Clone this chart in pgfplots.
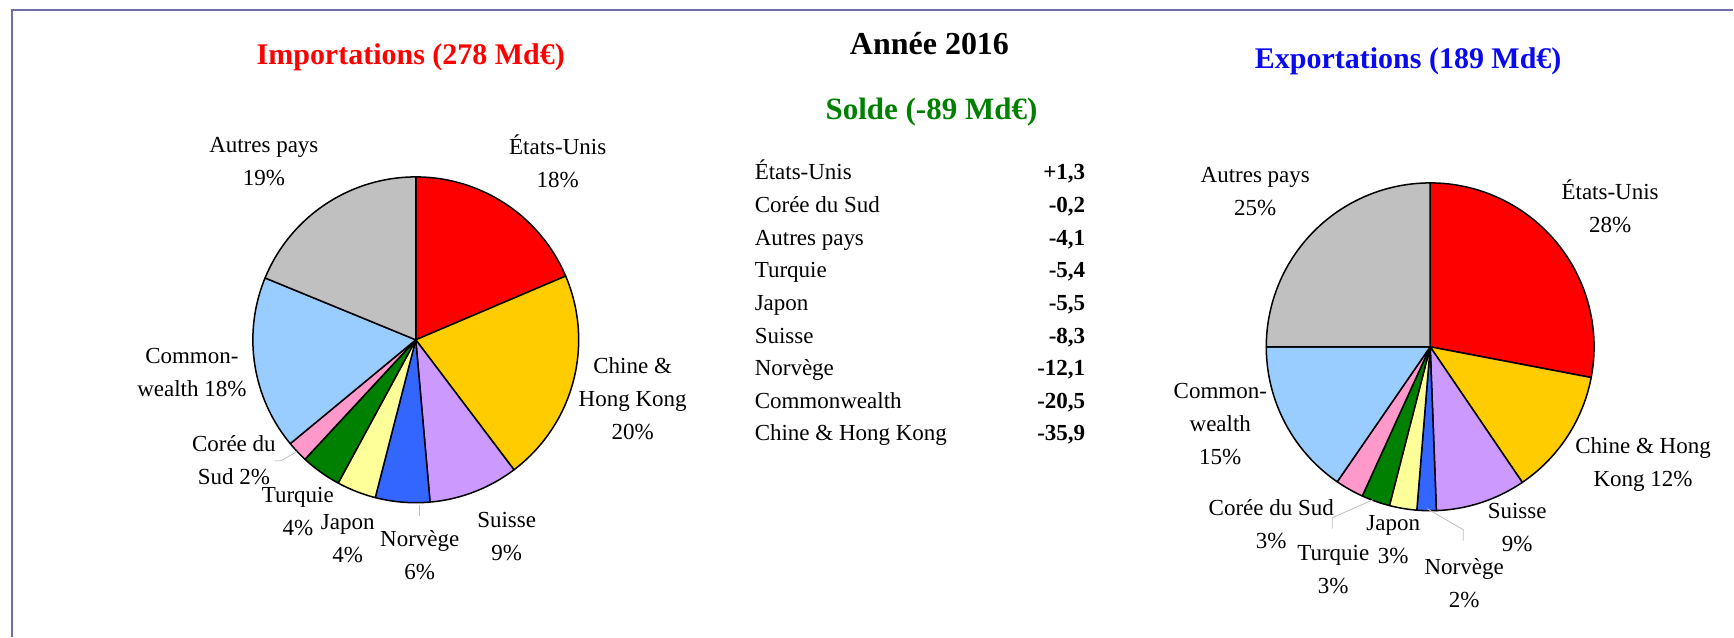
\documentclass[border=0pt]{standalone}
\usepackage{fontspec}
\setmainfont{Liberation Serif}
\usepackage{pgfplots}
\pgfplotsset{compat=1.18}
\definecolor{cUS}{HTML}{FF0000}
\definecolor{cCH}{HTML}{FFCC00}
\definecolor{cSU}{HTML}{CC99FF}
\definecolor{cNO}{HTML}{3366FF}
\definecolor{cJA}{HTML}{FFFF99}
\definecolor{cTU}{HTML}{008000}
\definecolor{cCO}{HTML}{FF99CC}
\definecolor{cCW}{HTML}{99CCFF}
\definecolor{cAU}{HTML}{C0C0C0}
\definecolor{frame}{HTML}{6E6EAA}
\definecolor{tblue}{HTML}{0A0AF0}
\definecolor{tgreen}{HTML}{008000}
\definecolor{leader}{HTML}{BFBFBF}
\def\cx{0}\def\cy{0}\def\R{163}
\def\cum{0}
\newcommand\slice[2]{%
  \pgfmathsetmacro\angA{90-3.6*\cum}%
  \pgfmathsetmacro\cumnew{\cum+#2}%
  \pgfmathsetmacro\angB{90-3.6*\cumnew}%
  \global\let\cum\cumnew
  \edef\temp{\noexpand\addplot[fill=#1,draw=black,line width=1.5pt,line join=round,domain=\angB:\angA,samples=61,variable=\noexpand\t] ({\cx+\R*cos(\noexpand\t)},{\cy-\R*sin(\noexpand\t)}) -- (axis cs:\cx,\cy) -- cycle;}%
  \temp}
\begin{document}
\begin{tikzpicture}
\begin{axis}[width=1734pt,height=637pt,scale only axis,
  xmin=0,xmax=1734,ymin=0,ymax=637,y dir=reverse,
  hide axis,clip=false,no markers]
\path (axis cs:0,0) rectangle (axis cs:1734,637);
% frame
\draw[frame,line width=2pt] (axis cs:12.3,637) -- (axis cs:12.3,10) -- (axis cs:1734,10);
% ---------- Importations (%), clockwise from top
\def\cx{416}\def\cy{340}\def\R{163}\gdef\cum{0}
\slice{cUS}{18.6}
\slice{cCH}{21.1}
\slice{cSU}{8.9}
\slice{cNO}{5.4}
\slice{cJA}{3.9}
\slice{cTU}{4.0}
\slice{cCO}{2.1}
\slice{cCW}{17.2}
\slice{cAU}{18.8}
% ---------- Exportations (%)
\def\cx{1431}\def\cy{347}\def\R{164}\gdef\cum{0}
\slice{cUS}{28.0}
\slice{cCH}{12.5}
\slice{cSU}{8.9}
\slice{cNO}{1.9}
\slice{cJA}{2.7}
\slice{cTU}{2.8}
\slice{cCO}{2.8}
\slice{cCW}{15.4}
\slice{cAU}{25.0}
% leader lines
\draw[leader,line width=0.8pt] (axis cs:297,452) -- (axis cs:281,461) -- (axis cs:275,461);
\draw[leader,line width=0.8pt] (axis cs:420,505) -- (axis cs:420,516);
\draw[leader,line width=0.8pt] (axis cs:1428,509) -- (axis cs:1464,530) -- (axis cs:1464,541);
\draw[leader,line width=0.8pt] (axis cs:1374,500) -- (axis cs:1333,518) -- (axis cs:1333,529);
% titles
\node[font=\fontsize{30}{36}\selectfont\bfseries,text=red] at (axis cs:411,57) {Importations (278 Md€)};
\node[font=\fontsize{30}{36}\selectfont\bfseries,text=tblue] at (axis cs:1409,61) {Exportations (189 Md€)};
\node[font=\fontsize{32}{38}\selectfont\bfseries] at (axis cs:930,44) {Année 2016};
\node[font=\fontsize{31}{37}\selectfont\bfseries,text=tgreen] at (axis cs:932,112) {Solde (-89 Md€)};
% import labels
\begin{scope}[every node/.style={font=\fontsize{23}{33}\selectfont,align=center,inner sep=0pt}]
\node at (axis cs:264,162) {Autres pays\\19\%};
\node at (axis cs:558,161) {États-Unis\\18\%};
\node at (axis cs:633,399) {Chine \&\\Hong Kong\\20\%};
\node at (axis cs:507,537) {Suisse\\9\%};
\node at (axis cs:420,555) {Norvège\\6\%};
\node at (axis cs:348,539) {Japon\\4\%};
\node at (axis cs:298,512) {Turquie\\4\%};
\node at (axis cs:234,460) {Corée du\\Sud 2\%};
\node at (axis cs:192,373) {Common-\\wealth 18\%};
% export labels
\node at (axis cs:1256,192) {Autres pays\\25\%};
\node at (axis cs:1611,206) {États-Unis\\28\%};
\node at (axis cs:1644,465) {Chine \& Hong\\Kong 12\%};
\node at (axis cs:1518,528) {Suisse\\9\%};
\node at (axis cs:1465,583) {Norvège\\2\%};
\node at (axis cs:1394,540) {Japon\\3\%};
\node at (axis cs:1334,570) {Turquie\\3\%};
\node at (axis cs:1272,524) {Corée du Sud\\3\%};
\node at (axis cs:1221,424) {Common-\\wealth\\15\%};
% table
\node[anchor=base west] at (axis cs:755,180) {États-Unis};
\node[anchor=base west] at (axis cs:755,213) {Corée du Sud};
\node[anchor=base west] at (axis cs:755,246) {Autres pays};
\node[anchor=base west] at (axis cs:755,278) {Turquie};
\node[anchor=base west] at (axis cs:755,311) {Japon};
\node[anchor=base west] at (axis cs:755,344) {Suisse};
\node[anchor=base west] at (axis cs:755,376) {Norvège};
\node[anchor=base west] at (axis cs:755,409) {Commonwealth};
\node[anchor=base west] at (axis cs:755,441) {Chine \& Hong Kong};
\node[anchor=base east,font=\fontsize{23}{33}\selectfont\bfseries] at (axis cs:1086,180) {+1,3};
\node[anchor=base east,font=\fontsize{23}{33}\selectfont\bfseries] at (axis cs:1086,213) {-0,2};
\node[anchor=base east,font=\fontsize{23}{33}\selectfont\bfseries] at (axis cs:1086,246) {-4,1};
\node[anchor=base east,font=\fontsize{23}{33}\selectfont\bfseries] at (axis cs:1086,278) {-5,4};
\node[anchor=base east,font=\fontsize{23}{33}\selectfont\bfseries] at (axis cs:1086,311) {-5,5};
\node[anchor=base east,font=\fontsize{23}{33}\selectfont\bfseries] at (axis cs:1086,344) {-8,3};
\node[anchor=base east,font=\fontsize{23}{33}\selectfont\bfseries] at (axis cs:1086,376) {-12,1};
\node[anchor=base east,font=\fontsize{23}{33}\selectfont\bfseries] at (axis cs:1086,409) {-20,5};
\node[anchor=base east,font=\fontsize{23}{33}\selectfont\bfseries] at (axis cs:1086,441) {-35,9};
\end{scope}
\end{axis}
\end{tikzpicture}
\end{document}
